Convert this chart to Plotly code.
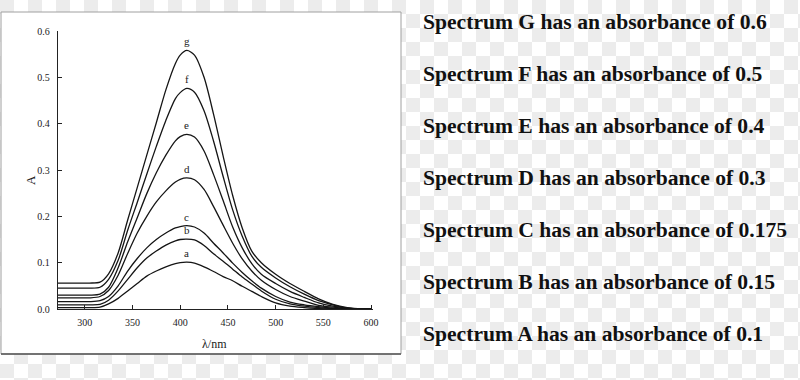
import plotly.graph_objects as go

# ---------------- data ----------------
wavelength = [272, 290, 305, 316, 325, 335, 345, 355, 365, 375, 385, 395, 400, 407,
              415, 425, 435, 445, 455, 465, 475, 485, 500, 515, 530, 545, 560, 575, 590, 600]

spectrum_g = [.056, .056, .056, .058, .076, .121, .192, .262, .332, .402, .473, .530, .548, .558,
              .548, .500, .420, .330, .245, .175, .125, .100, .075, .055, .038, .022, .010, .003, 0, 0]
spectrum_f = [.045, .045, .045, .047, .064, .105, .170, .230, .291, .351, .407, .454, .467, .476,
              .468, .428, .362, .286, .214, .157, .114, .090, .067, .048, .032, .018, .009, .002, 0, 0]
spectrum_e = [.030, .030, .030, .032, .047, .089, .145, .197, .249, .294, .332, .363, .372, .377,
              .371, .341, .290, .234, .177, .132, .098, .075, .055, .038, .025, .013, .006, .002, 0, 0]
spectrum_d = [.024, .024, .024, .027, .040, .073, .120, .164, .200, .231, .255, .274, .280, .283,
              .279, .258, .221, .181, .142, .108, .082, .062, .042, .027, .017, .008, .004, .001, 0, 0]
spectrum_c = [.016, .016, .016, .018, .027, .050, .082, .109, .132, .150, .164, .175, .178, .180,
              .177, .164, .142, .121, .099, .079, .061, .045, .027, .015, .009, .005, .002, .001, 0, 0]
spectrum_b = [.009, .009, .009, .010, .019, .039, .064, .089, .110, .125, .138, .147, .150, .151,
              .149, .137, .119, .103, .086, .069, .054, .039, .021, .011, .006, .003, .001, 0, 0, 0]
spectrum_a = [.003, .003, .003, .004, .011, .023, .039, .055, .071, .082, .091, .098, .100, .101,
              .099, .091, .081, .070, .061, .049, .038, .027, .013, .006, .003, .001, 0, 0, 0, 0]

curve_labels = ["a", "b", "c", "d", "e", "f", "g"]
curves = [spectrum_a, spectrum_b, spectrum_c, spectrum_d, spectrum_e, spectrum_f, spectrum_g]

x_ticks = [300, 350, 400, 450, 500, 550, 600]
y_ticks = [0.0, 0.1, 0.2, 0.3, 0.4, 0.5, 0.6]

spectrum_names = ["G", "F", "E", "D", "C", "B", "A"]
absorbances = ["0.6", "0.5", "0.4", "0.3", "0.175", "0.15", "0.1"]

# ---------------- layout geometry (pixels) ----------------
W, H = 800, 380
L, R, T, B = 58, 373, 31, 309


def px2x(px):
    return (px - L) / (R - L)


def py2y(py):
    return (B - py) / (B - T)


fig = go.Figure()

for lab, ys in zip(curve_labels, curves):
    fig.add_trace(go.Scatter(
        x=wavelength, y=ys, mode="lines", name=lab,
        line=dict(color="#151515", width=1.3, shape="spline", smoothing=0.8),
        showlegend=False, hoverinfo="skip"))

annotations = []
for lab, ys in zip(curve_labels, curves):
    peak = max(ys)
    annotations.append(dict(x=wavelength[ys.index(peak)], y=peak, xref="x", yref="y",
                            text=lab, showarrow=False, yshift=9,
                            xanchor="center", yanchor="middle",
                            font=dict(family="Liberation Serif", size=11, color="#222")))

# axis titles
annotations.append(dict(x=px2x(30), y=py2y(180), xref="paper", yref="paper", text="A",
                        showarrow=False, textangle=-90, xanchor="center", yanchor="middle",
                        font=dict(family="Liberation Serif", size=13, color="#222")))
annotations.append(dict(x=px2x(214), y=py2y(344), xref="paper", yref="paper", text="λ/nm",
                        showarrow=False, xanchor="center", yanchor="middle",
                        font=dict(family="Liberation Serif", size=12, color="#222")))

# right-hand text column
row_y0, row_dy = 22, 52
for i, (nm, ab) in enumerate(zip(spectrum_names, absorbances)):
    annotations.append(dict(
        x=px2x(421), y=py2y(row_y0 + i * row_dy), xref="paper", yref="paper",
        xanchor="left", yanchor="middle", showarrow=False,
        text=f"<b>Spectrum {nm} has an absorbance of {ab}</b>",
        font=dict(family="Liberation Serif", size=21.6, color="#111")))

# background: faint checkerboard + white box
shapes = []
sq = 14
box = (1, 12, 401, 354)
for i in range(0, W // sq + 1):
    for j in range(0, H // sq + 1):
        if (i + j) % 2:
            continue
        x0, y0 = i * sq, j * sq
        x1, y1 = x0 + sq, y0 + sq
        if x0 >= box[0] and x1 <= box[2] and y0 >= box[1] and y1 <= box[3]:
            continue
        shapes.append(dict(type="rect", xref="paper", yref="paper",
                           x0=px2x(x0), x1=px2x(x1), y0=py2y(y1), y1=py2y(y0),
                           fillcolor="#ececec", line=dict(width=0), layer="below"))
shapes.append(dict(type="rect", xref="paper", yref="paper",
                   x0=px2x(box[0]), x1=px2x(box[2]), y0=py2y(box[3]), y1=py2y(box[1]),
                   fillcolor="white", line=dict(color="#a0a0a0", width=1), layer="below"))
shapes.append(dict(type="line", xref="paper", yref="paper",
                   x0=px2x(box[0]), x1=px2x(box[2]), y0=py2y(box[3]), y1=py2y(box[3]),
                   line=dict(color="#555", width=1.5), layer="below"))

tick_font = dict(family="Liberation Serif", size=10, color="#222")

fig.update_layout(
    width=W, height=H, autosize=False,
    margin=dict(l=L, r=W - R, t=T, b=H - B, pad=0),
    paper_bgcolor="white", plot_bgcolor="rgba(0,0,0,0)",
    annotations=annotations, shapes=shapes,
    xaxis=dict(range=[272, 602], tickvals=x_ticks, ticktext=[str(v) for v in x_ticks],
               showgrid=False, zeroline=False, showline=True, linecolor="#222", linewidth=1.3,
               ticks="inside", ticklen=4, tickcolor="#222", tickfont=tick_font,
               ticklabelstandoff=4, fixedrange=True),
    yaxis=dict(range=[0, 0.6], tickvals=y_ticks, ticktext=[f"{v:.1f}" for v in y_ticks],
               showgrid=False, zeroline=False, showline=True, linecolor="#222", linewidth=1.3,
               ticks="inside", ticklen=4, tickcolor="#222", tickfont=tick_font,
               ticklabelstandoff=5, fixedrange=True),
)

fig.write_html("out.html", config={"displayModeBar": False},
               post_script="document.body.style.margin='0';document.body.style.overflow='hidden';")
